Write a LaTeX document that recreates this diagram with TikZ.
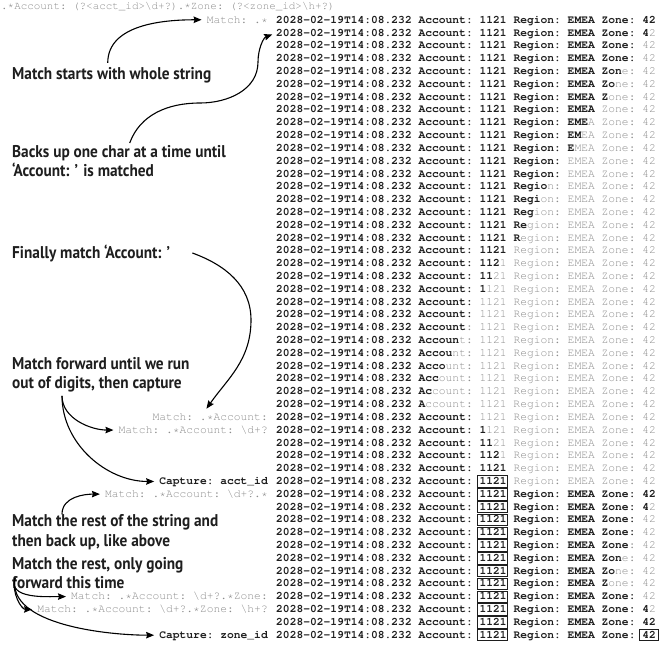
\documentclass[tikz,border=0pt]{standalone}
\usepackage[T1]{fontenc}
\usepackage{fontspec}
\newfontfamily\notefont{PT Sans}[FakeStretch=0.9]
\usepackage{tikz}
\usetikzlibrary{arrows.meta}
\usetikzlibrary{positioning}

\definecolor{dimgray}{HTML}{8C8C8C}
\definecolor{inkdark}{HTML}{1E1E1E}

\newcommand{\monofont}{\fontencoding{T1}\fontfamily{pcr}\fontsize{11.3}{12.8}\selectfont\frenchspacing}
\newcommand{\hdrfont}{\fontencoding{T1}\fontfamily{pcr}\fontsize{10.9}{12}\selectfont\frenchspacing}
\newcommand{\notesize}{\notefont\bfseries\fontsize{17}{19.5}\selectfont}

\ExplSyntaxOn
\str_const:Nn \c_logrow_line_str {2028-02-19T14:08.232~Account:~1121~Region:~EMEA~Zone:~42}
\NewDocumentCommand \logrow { m }
  {
    { \bfseries \color{inkdark} \scan_stop: \str_range:Nnn \c_logrow_line_str {1} {#1} }
    { \color{dimgray} \scan_stop: \str_range:Nnn \c_logrow_line_str {#1+1} {-1} }
  }
\ExplSyntaxOff

\tikzstyle{logline}=[anchor=base west,inner sep=0pt,font=\monofont]
\tikzstyle{hdrline}=[anchor=base west,inner sep=0pt,font=\hdrfont,text=dimgray]
\tikzstyle{matchlbl}=[inner sep=1pt,font=\monofont,text=dimgray]
\tikzstyle{capturelbl}=[inner sep=1pt,font=\monofont\bfseries,text=inkdark]
\tikzstyle{note}=[anchor=west,inner sep=0pt,align=left,font=\notesize,text=inkdark]
\tikzstyle{capbox}=[draw=inkdark,line width=1pt]
\tikzstyle{edge}=[draw,line width=1.1pt,shorten >=4pt,-{Stealth[length=8pt,width=6.5pt,inset=1pt]}]

\begin{document}
\begin{tikzpicture}[x=1pt,y=1pt]
\useasboundingbox (0,0) rectangle (659,-651);

% the pattern
\node[hdrline] (hdr) at (1,-9) {.*Account: (?<acct\_id>\textbackslash d+?).*Zone: (?<zone\_id>\textbackslash h+?)};

% one line per step, bold = what has been matched so far
\foreach \n [count=\k from 0] in {56,55,54,53,51,50,49,47,46,45,44,43,42,40,39,38,37,36,34,33,32,31,30,29,28,27,26,25,24,23,22,30,31,32,33,34,34,56,55,54,53,52,51,50,49,54,55,56,56}
    \node[logline] (r\k) at (276,{-23.3-12.81*\k}) {\logrow{\n}};

% captured groups
\foreach \k in {36,...,48}
    \draw[capbox] ([shift={(201.5,-2.8)}]r\k.base west) rectangle ([shift={(231.5,8.6)}]r\k.base west);
\draw[capbox] ([shift={(363,-2.8)}]r48.base west) rectangle ([shift={(382.5,8.6)}]r48.base west);

% what the pattern is at each stage
\node[matchlbl, base left=7pt of r0] (m0) {Match: .*};
\node[matchlbl, base left=7pt of r31] (m31) {Match: .*Account:};
\node[matchlbl, base left=7pt of r32] (m32) {Match: .*Account: \textbackslash d+?};
\node[capturelbl, base left=7pt of r36] (c36) {Capture: acct\_id};
\node[matchlbl, base left=7pt of r37] (m37) {Match: .*Account: \textbackslash d+?.*};
\node[matchlbl, base left=7pt of r45] (m45) {Match: .*Account: \textbackslash d+?.*Zone:};
\node[matchlbl, base left=7pt of r46] (m46) {Match: .*Account: \textbackslash d+?.*Zone: \textbackslash h+?};
\node[capturelbl, base left=7pt of r48] (c48) {Capture: zone\_id};

% notes
\node[note] (nStart) at (12,-75) {Match starts with whole string};
\node[note] (nBack) at (12,-161) {Backs up one char at a time until\\‘Account: ’ is matched};
\node[note] (nFinal) at (12,-253) {Finally match ‘Account: ’};
\node[note] (nForward) at (12,-375) {Match forward until we run\\out of digits, then capture};
\node[note] (nRest) at (12,-532) {Match the rest of the string and\\then back up, like above};
\node[note] (nOnly) at (12,-573) {Match the rest, only going\\forward this time};
\coordinate (sOnly) at ([xshift=3pt,yshift=-5pt]nOnly.west);

\draw[edge, shorten <=4pt] ([xshift=-4pt]nStart.north) to[out=90,in=180] (m0.west);
\draw[edge, shorten <=2pt] ([xshift=10pt]nBack.north) to[out=70,in=180] (200,-103) to[out=0,in=-90] (258,-62) to[out=90,in=200] (r1.west);
\draw[edge] ([xshift=22pt]nFinal.east) to[out=-20,in=90] (251,-320) to[out=-90,in=55] ([xshift=-6pt]m31.north);
\draw[edge, shorten <=3pt] ([xshift=50pt]nForward.south west) to[out=-90,in=180] (m32.west);
\draw[edge, shorten <=3pt] ([xshift=50pt]nForward.south west) to[out=-90,in=180] (c36.west);
\draw[edge] ([xshift=50pt]nRest.north west) to[out=90,in=180] (m37.west);
\draw[edge] (sOnly) to[out=-110,in=180] (m45.west);
\draw[edge] (sOnly) to[out=-105,in=180] (m46.west);
\draw[edge] (sOnly) to[out=-100,in=180,looseness=0.8] (c48.west);

\end{tikzpicture}
\end{document}
